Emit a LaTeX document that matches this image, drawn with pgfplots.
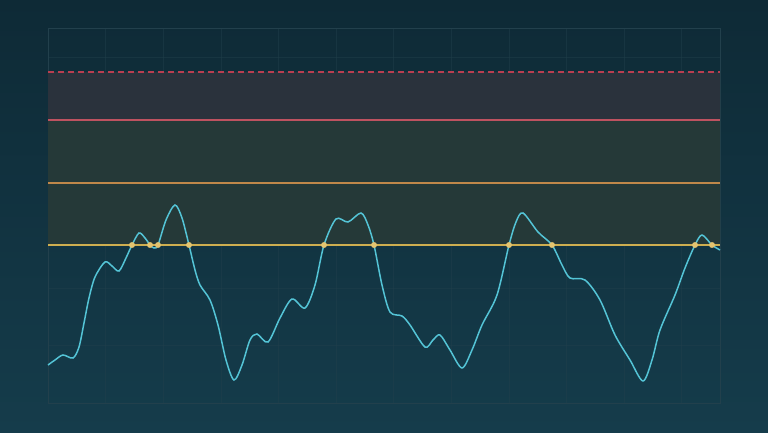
\documentclass[border=0pt]{standalone}
\usepackage{pgfplots}
\pgfplotsset{compat=1.18}
\definecolor{bgtop}{RGB}{14,42,54}
\definecolor{bgbot}{RGB}{21,60,75}
\definecolor{bandA}{RGB}{37,57,56}
\definecolor{bandB}{RGB}{42,50,60}
\definecolor{cyanline}{RGB}{84,196,214}
\definecolor{yelline}{RGB}{206,174,80}
\definecolor{oraline}{RGB}{192,136,74}
\definecolor{redline}{RGB}{190,82,96}
\definecolor{reddash}{RGB}{186,62,80}
\definecolor{dotcol}{RGB}{228,196,112}
\definecolor{gridc}{RGB}{34,64,76}
\begin{document}
\begin{tikzpicture}[x=1pt,y=1pt]
\shade[top color=bgtop, bottom color=bgbot] (0,0) rectangle (768,432);
\begin{axis}[
  at={(48pt,29pt)}, anchor=south west,
  width=672pt, height=375pt, scale only axis,
  xmin=0, xmax=672, ymin=0, ymax=375,
  axis line style={draw=gridc, line width=0.6pt},
  xtick={57.6,115.2,172.8,230.4,288,345.6,403.2,460.8,518.4,576,633.6},
  ytick={57.6,115.2,172.8,230.4,288,345.6},
  xticklabels={}, yticklabels={},
  major tick length=0pt,
  grid=major,
  major grid style={draw=gridc, line width=0.4pt, opacity=0.45},
  clip=false,
]
\addplot[fill=bandA, draw=none] coordinates {(0,158) (672,158) (672,283) (0,283) (0,158)};
\addplot[fill=bandB, draw=none] coordinates {(0,283) (672,283) (672,331) (0,331) (0,283)};
\addplot[color=reddash, line width=1.2pt, dash pattern=on 6pt off 4pt] coordinates {(0,331) (672,331)};
\addplot[color=redline, line width=1.1pt] coordinates {(0,283) (672,283)};
\addplot[color=oraline, line width=1.1pt] coordinates {(0,220) (672,220)};
\addplot[color=yelline, line width=1.1pt] coordinates {(0,158) (672,158)};
\addplot[color=cyanline, line width=1.5pt, smooth, tension=0.5] coordinates {
(0,38) (7,43) (15,48) (25,45) (31,56) (36,80) (41,105) (47,126) (57,141) (64,137)
(71,132) (78,145) (84,158) (91,170) (97,165) (102,158) (106,155) (110,158)
(118,183) (127,198) (134,185) (141,158) (147,133) (152,118) (162,103)
(170,78) (178,43) (186,23) (194,38) (202,63) (209,69) (220,61) (232,85)
(244,104) (257,95) (267,118) (276,158) (288,184) (300,181) (313,190)
(320,178) (326,158) (334,118) (342,91) (354,87) (362,78) (377,56) (385,63)
(392,68) (402,53) (414,35) (424,53) (434,78) (449,108) (461,158) (468,181)
(475,190) (490,171) (504,158) (514,138) (522,125) (537,123) (552,103)
(567,68) (582,43) (595,22) (604,43) (612,73) (627,108) (637,135) (647,158)
(654,168) (664,158) (672,153)
};
\addplot[only marks, mark=*, mark size=2.7pt, mark options={fill=dotcol, draw=dotcol}] coordinates {
(84,158) (102,158) (110,158) (141,158) (276,158) (326,158) (461,158) (504,158) (647,158) (664,158)
};
\end{axis}
\end{tikzpicture}
\end{document}
